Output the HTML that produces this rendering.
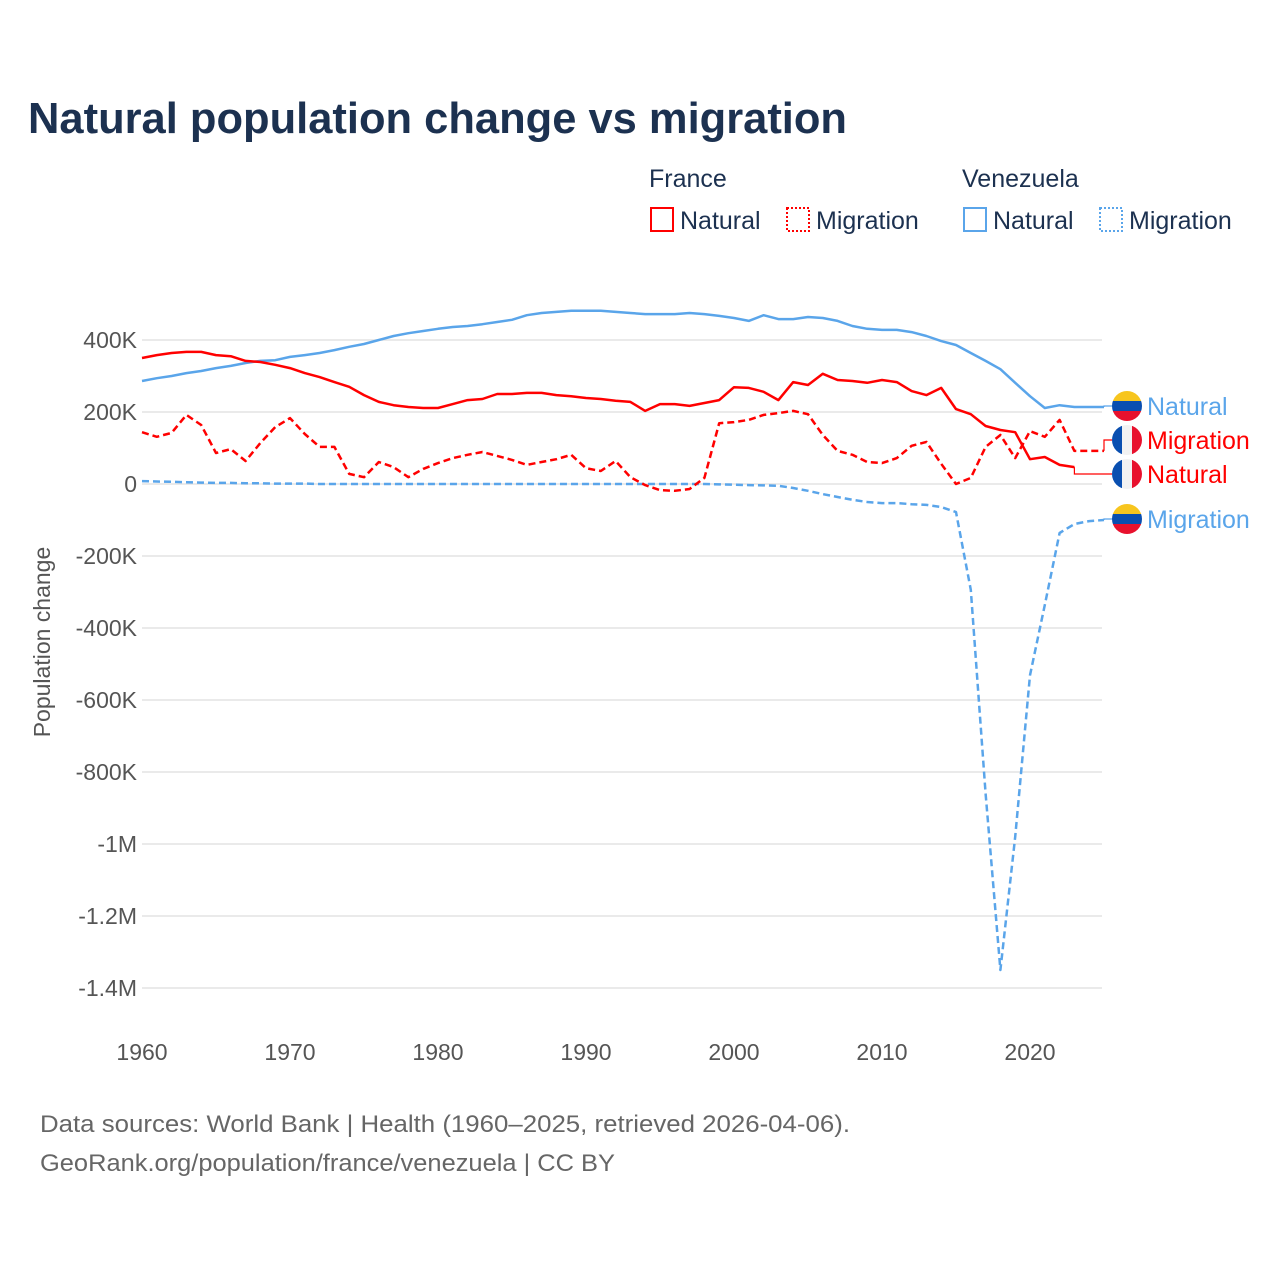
<!DOCTYPE html>
<html><head><meta charset="utf-8">
<style>
body{margin:0;background:#fff;width:1280px;height:1280px;overflow:hidden;font-family:"Liberation Sans",sans-serif}
svg text{font-family:"Liberation Sans",sans-serif}
</style></head>
<body>
<svg id="chart" width="1280" height="1280" xmlns="http://www.w3.org/2000/svg">
<text x="28" y="133" font-size="44" font-weight="bold" fill="#1c3150" textLength="819" lengthAdjust="spacingAndGlyphs">Natural population change vs migration</text>
<g font-size="25" fill="#1c3150">
<text x="649" y="187">France</text>
<text x="962" y="187">Venezuela</text>
<g><rect x="651" y="208" width="22" height="23" fill="none" stroke="#f00" stroke-width="2"/><text x="680" y="229">Natural</text></g>
<g><rect x="787" y="208" width="22" height="23" fill="none" stroke="#f00" stroke-width="2" stroke-dasharray="2,2"/><text x="816" y="229">Migration</text></g>
<g><rect x="964" y="208" width="22" height="23" fill="none" stroke="#5aa5ea" stroke-width="2"/><text x="993" y="229">Natural</text></g>
<g><rect x="1100" y="208" width="22" height="23" fill="none" stroke="#5aa5ea" stroke-width="2" stroke-dasharray="2,2"/><text x="1129" y="229">Migration</text></g>
</g>
<g id="grid"></g><g id="yticks"></g><g id="xticks"></g><g id="series"></g><g id="labels"></g>
<text transform="translate(50,642) rotate(-90)" text-anchor="middle" font-size="23" fill="#555">Population change</text>
<text x="40" y="1132" font-size="24" fill="#666" textLength="810" lengthAdjust="spacingAndGlyphs">Data sources: World Bank | Health (1960–2025, retrieved 2026-04-06).</text>
<text x="40" y="1171" font-size="24" fill="#666" textLength="575" lengthAdjust="spacingAndGlyphs">GeoRank.org/population/france/venezuela | CC BY</text>
</svg>
<script>
const years=[];for(let y=1960;y<=2025;y++)years.push(y);
const franceNatural=[350,358,364,367,367,358,355,342,339,331,322,308,297,283,270,247,228,219,214,211,211,222,233,236,250,250,253,253,247,244,239,236,231,228,203,222,222,217,225,233,269,267,256,233,283,275,306,289,286,281,289,283,258,247,267,208,194,161,150,144,69,75,53,47];
const franceMigration=[144,131,142,192,164,86,97,64,114,158,183,139,103,103,28,19,61,47,19,42,58,72,81,89,78,67,53,61,69,81,44,36,64,19,-3,-17,-19,-14,17,169,172,178,192,197,203,194,136,92,81,61,58,72,106,117,56,0,17,103,136,72,147,131,178,92,92,92];
const venNatural=[286,294,300,308,314,322,328,336,342,344,353,358,364,372,381,389,400,411,419,425,431,436,439,444,450,456,469,475,478,481,481,481,478,475,472,472,472,475,472,467,461,453,469,458,458,464,461,453,439,431,428,428,422,411,397,386,364,342,319,281,244,211,219,214,214,214];
const venMigration=[8,7,6,5,4,3,3,2,2,1,1,1,0,0,0,0,0,0,0,0,0,0,0,0,0,0,0,0,0,0,0,0,0,0,0,0,0,0,0,-1,-2,-3,-4,-5,-11,-19,-28,-36,-44,-50,-53,-53,-56,-58,-64,-78,-294,-860,-1350,-980,-531,-336,-136,-111,-103,-100];
const yTicks=[400,200,0,-200,-400,-600,-800,-1000,-1200,-1400];
const yTickLabels=["400K","200K","0","-200K","-400K","-600K","-800K","-1M","-1.2M","-1.4M"];
const xTicks=[1960,1970,1980,1990,2000,2010,2020];
const X=y=>142+(y-1960)*14.8;
const Y=v=>484-v*0.36;
const NS="http://www.w3.org/2000/svg";
function mk(tag,parent,attrs){const e=document.createElementNS(NS,tag);for(const k in attrs)e.setAttribute(k,attrs[k]);document.getElementById(parent).appendChild(e);return e;}
yTicks.forEach((v,i)=>{
 const l=mk('line','grid',{x1:142,x2:1102,y1:Y(v),y2:Y(v),stroke:'#e4e4e4','stroke-width':1.5});
 
 
 const t=mk('text','yticks',{x:137,y:Y(v)+8,'text-anchor':'end','font-size':23,fill:'#555'});
 t.textContent=yTickLabels[i];
 
 
});
xTicks.forEach(y=>{
 const t=mk('text','xticks',{x:X(y),y:1060,'text-anchor':'middle','font-size':23,fill:'#555'});
 t.textContent=y;
 
 
});
function line(data,color,dash,name){
 const pts=data.map((v,i)=>X(years[i]).toFixed(1)+','+Y(v).toFixed(1)).join(' ');
 const p=mk('polyline','series',{points:pts,fill:'none',stroke:color,'stroke-width':2.5,'stroke-linejoin':'round'});
 if(dash)p.setAttribute('stroke-dasharray','7,4');
 
 
 return p;
}
line(venMigration,'#5aa5ea',true,'venezuela-migration-line');
line(venNatural,'#5aa5ea',false,'venezuela-natural-line');
line(franceMigration,'#f00',true,'france-migration-line');
line(franceNatural,'#f00',false,'france-natural-line');
function endLabel(data,labelY,color,text,flag,name){
 const n=data.length-1,xe=X(years[n]),ye=Y(data[n]);
 const c=mk('polyline','labels',{points:`${xe},${ye} ${xe},${labelY} 1112,${labelY}`,fill:'none',stroke:color,'stroke-width':1.2});
 
 
 const g=document.createElementNS(NS,'g');document.getElementById('labels').appendChild(g);
 
 
 const cx=1127,cy=labelY;
 if(flag==='fr'){
  g.innerHTML=`<clipPath id="c${name}"><circle cx="${cx}" cy="${cy}" r="15"/></clipPath><g clip-path="url(#c${name})"><rect x="${cx-15}" y="${cy-15}" width="10" height="30" fill="#0a4fb0"/><rect x="${cx-5}" y="${cy-15}" width="10" height="30" fill="#f2f2f2"/><rect x="${cx+5}" y="${cy-15}" width="10" height="30" fill="#e8112d"/></g>`;
 }else{
  g.innerHTML=`<clipPath id="c${name}"><circle cx="${cx}" cy="${cy}" r="15"/></clipPath><g clip-path="url(#c${name})"><rect x="${cx-15}" y="${cy-15}" width="30" height="10" fill="#f7c51e"/><rect x="${cx-15}" y="${cy-5}" width="30" height="10" fill="#0a4fb0"/><rect x="${cx-15}" y="${cy+5}" width="30" height="10" fill="#e8112d"/></g>`;
 }
 const t=document.createElementNS(NS,'text');
 t.setAttribute('x',1147);t.setAttribute('y',labelY+9);t.setAttribute('font-size',25);t.setAttribute('fill',color);
 t.textContent=text;g.appendChild(t);
}
endLabel(venNatural,406,'#5aa5ea','Natural','ve','label-venezuela-natural');
endLabel(franceMigration,440,'#f00','Migration','fr','label-france-migration');
endLabel(franceNatural,474,'#f00','Natural','fr','label-france-natural');
endLabel(venMigration,519,'#5aa5ea','Migration','ve','label-venezuela-migration');
</script>
</body></html>
